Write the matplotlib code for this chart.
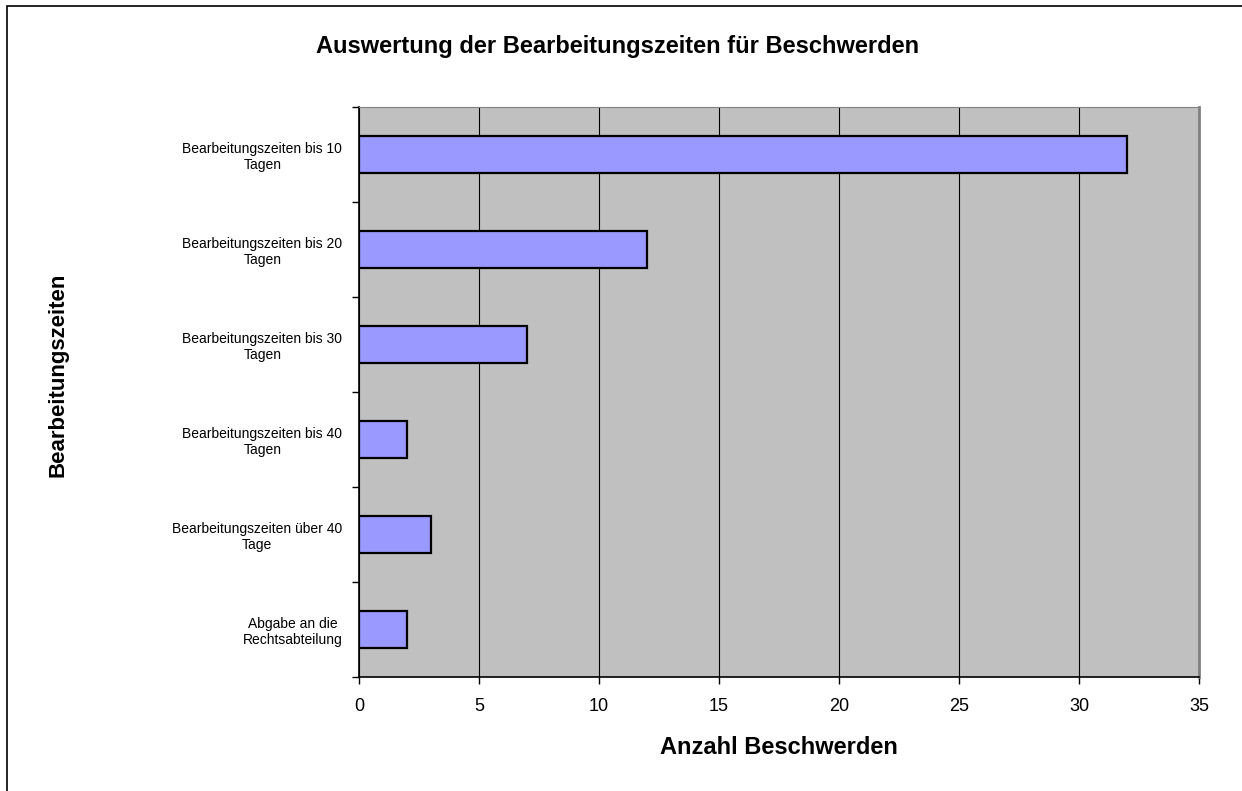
import matplotlib
matplotlib.use("Agg")
import matplotlib.pyplot as plt
from matplotlib.patches import Rectangle
import numpy as np

plt.rcParams['font.family'] = ['Liberation Sans', 'DejaVu Sans']

# Data
categories = ["Bearbeitungszeiten bis 10\nTagen",
              "Bearbeitungszeiten bis 20\nTagen",
              "Bearbeitungszeiten bis 30\nTagen",
              "Bearbeitungszeiten bis 40\nTagen",
              "Bearbeitungszeiten über 40\nTage",
              "Abgabe an die\nRechtsabteilung"]
counts = [32, 12, 7, 2, 3, 2]
x_ticks = [0, 5, 10, 15, 20, 25, 30, 35]

fig = plt.figure(figsize=(12.42, 7.91), dpi=100)
ax = fig.add_axes([359/1242, 1 - 677/791, (1199 - 359)/1242, (677 - 107)/791])

y = np.arange(len(categories))
ax.barh(y, counts, height=0.39, color='#9999FF', edgecolor='black', linewidth=1.6, zorder=3)

ax.set_facecolor('#C0C0C0')
ax.set_xlim(0, 35)
ax.set_ylim(len(categories) - 0.5, -0.5)
ax.set_xticks(x_ticks)
ax.set_xticklabels([str(t) for t in x_ticks], fontsize=13)
ax.tick_params(axis='x', direction='out', length=5, width=1, pad=10)
ax.grid(axis='x', color='black', linewidth=0.8, zorder=1)
ax.set_axisbelow(True)

ax.set_yticks(y)
ax.set_yticklabels(categories, fontsize=10)
for lab in ax.get_yticklabels():
    lab.set_multialignment('center')
ax.tick_params(axis='y', which='major', length=0, pad=12)
ax.set_yticks(np.arange(-0.5, len(categories) + 0.5, 1), minor=True)
ax.tick_params(axis='y', which='minor', direction='out', length=5, width=1)

for s in ['left', 'bottom']:
    ax.spines[s].set_color('black')
    ax.spines[s].set_linewidth(1.2)
ax.spines['top'].set_color('#808080')
ax.spines['right'].set_color('#808080')
ax.spines['right'].set_linewidth(2)

fig.text(618/1242, 1 - 47/791, "Auswertung der Bearbeitungszeiten für Beschwerden",
         fontsize=17, fontweight='bold', ha='center', va='center')
fig.text(779/1242, 1 - 747/791, "Anzahl Beschwerden",
         fontsize=17, fontweight='bold', ha='center', va='center')
fig.text(58/1242, 1 - 375/791, "Bearbeitungszeiten",
         fontsize=16, fontweight='bold', rotation=90, ha='center', va='center')

fig.patches.append(Rectangle((7/1242, -0.1), 1.2, 1.1 - 6/791, transform=fig.transFigure,
                             fill=False, edgecolor='black', linewidth=1.2))

fig.savefig("out.png", dpi=100)
